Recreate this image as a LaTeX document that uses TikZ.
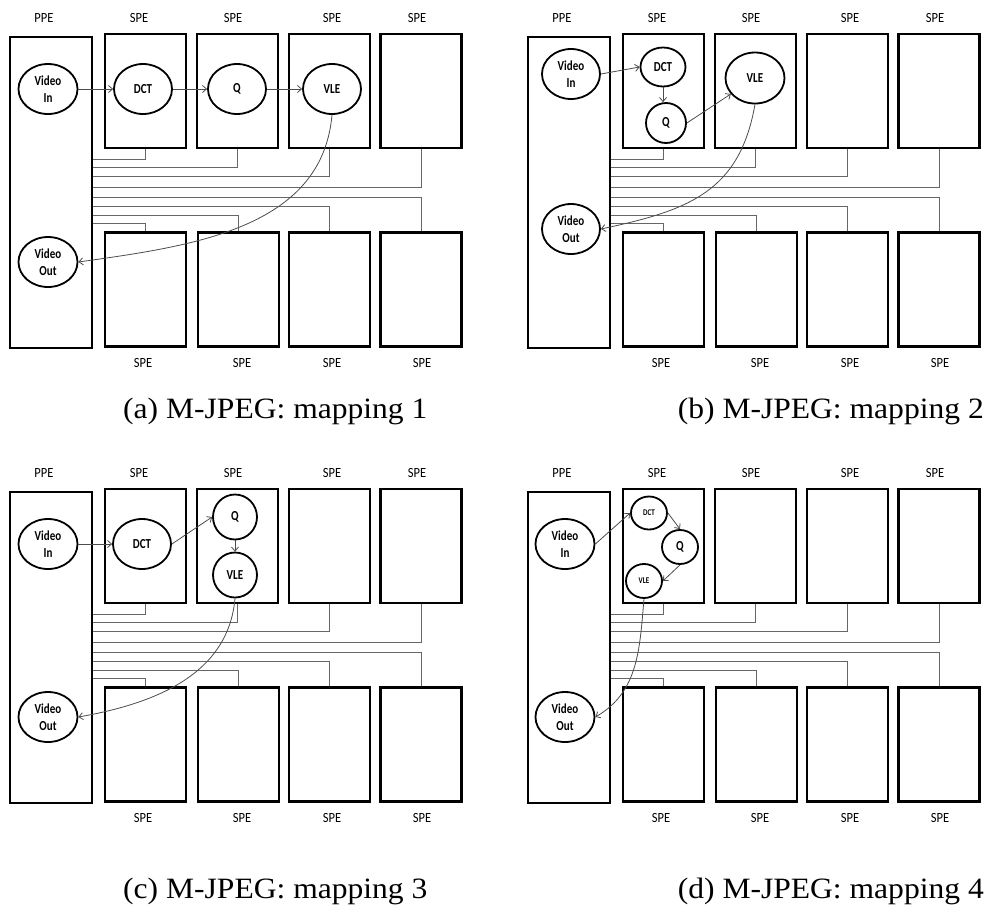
\documentclass[tikz,border=0pt]{standalone}
\usepackage{fontspec}
\setmainfont{Liberation Serif}
\newfontfamily\cali{Carlito}
\usetikzlibrary{shapes.geometric,arrows.meta}
\newcommand\vtall[1]{\scalebox{1}[1.25]{#1}}
\newcommand\ltall[1]{\scalebox{1}[1.12]{#1}}
\newcommand\capwide[1]{\scalebox{1.07}[1]{#1}}
\tikzset{
  x=1pt,y=-1pt,
  ppebox/.style={draw=black,line width=2.2pt,minimum width=82pt,minimum height=311pt,inner sep=0pt},
  pebox/.style={draw=black,line width=2.2pt,minimum width=81pt,minimum height=114pt,inner sep=0pt},
  lbl/.style={font=\cali\fontsize{12.5}{15}\selectfont,inner sep=0pt},
  bus/.style={draw=black!60,line width=1pt},
  ell/.style={ellipse,draw=black,line width=1.8pt,inner sep=0pt,align=center,
              font=\cali\bfseries\fontsize{11}{17}\selectfont},
  smallell/.style={ell,font=\cali\bfseries\fontsize{7}{8}\selectfont},
  arr/.style={draw=black!70,line width=0.8pt,-{Straight Barb[length=4pt,width=7pt]}},
  captxt/.style={font=\fontsize{29.5}{34}\selectfont,inner sep=0pt},
}
\newcommand\cellpanel[3]{%
\begin{scope}[shift={(#2,#3)}]
  \node[ppebox] (#1ppe) at (51,192.5) {};
  \node[pebox] (#1t1) at (145.5,91) {};
  \node[pebox] (#1t2) at (237.5,91) {};
  \node[pebox] (#1t3) at (329.5,91) {};
  \node[pebox] (#1t4) at (421,91) {};
  \node[pebox] (#1b1) at (145.5,289.5) {};
  \node[pebox] (#1b2) at (238.5,289.5) {};
  \node[pebox] (#1b3) at (329.5,289.5) {};
  \node[pebox] (#1b4) at (421,289.5) {};
  \node[lbl] (#1lp) at (44,18) {\ltall{PPE}};
  \node[lbl] (#1lt1) at (139,18) {\ltall{SPE}};
  \node[lbl] (#1lt2) at (233,18) {\ltall{SPE}};
  \node[lbl] (#1lt3) at (332,18) {\ltall{SPE}};
  \node[lbl] (#1lt4) at (417,18) {\ltall{SPE}};
  \node[lbl] (#1lb1) at (143,363) {\ltall{SPE}};
  \node[lbl] (#1lb2) at (242,363) {\ltall{SPE}};
  \node[lbl] (#1lb3) at (332,363) {\ltall{SPE}};
  \node[lbl] (#1lb4) at (422,363) {\ltall{SPE}};
  \coordinate (#1y1) at (0,159);
  \coordinate (#1y2) at (0,167);
  \coordinate (#1y3) at (0,176);
  \coordinate (#1y4) at (0,187);
  \coordinate (#1y5) at (0,197);
  \coordinate (#1y6) at (0,206);
  \coordinate (#1y7) at (0,215);
  \coordinate (#1y8) at (0,223);
  \draw[bus] (#1ppe.east |- #1y1) -| (#1t1.south);
  \draw[bus] (#1ppe.east |- #1y2) -| (#1t2.south);
  \draw[bus] (#1ppe.east |- #1y3) -| (#1t3.south);
  \draw[bus] (#1ppe.east |- #1y4) -| (#1t4.south);
  \draw[bus] (#1ppe.east |- #1y5) -| (#1b4.north);
  \draw[bus] (#1ppe.east |- #1y6) -| (#1b3.north);
  \draw[bus] (#1ppe.east |- #1y7) -| (#1b2.north);
  \draw[bus] (#1ppe.east |- #1y8) -| (#1b1.north);
\end{scope}}
\begin{document}
\begin{tikzpicture}
\useasboundingbox (0,0) rectangle (986,911);
\cellpanel{a}{0}{0}
\cellpanel{b}{518}{0}
\cellpanel{c}{0}{455}
\cellpanel{d}{518}{455}

% panel (a)
\begin{scope}[shift={(0,0)}]
  \node[ell,minimum width=59pt,minimum height=50pt] (avin) at (48,89) {\vtall{Video}\\\vtall{In}};
  \node[ell,minimum width=58pt,minimum height=50pt] (adct) at (143,89) {\vtall{DCT}};
  \node[ell,minimum width=58pt,minimum height=50pt] (aq) at (237,89) {\vtall{Q}};
  \node[ell,minimum width=58pt,minimum height=50pt] (avle) at (332,89) {\vtall{VLE}};
  \node[ell,minimum width=59pt,minimum height=50pt] (avout) at (48,262) {\vtall{Video}\\\vtall{Out}};
\end{scope}
\draw[arr] (avin) -- (adct);
\draw[arr] (adct) -- (aq);
\draw[arr] (aq) -- (avle);
\draw[arr] (avle.south) to[out=-95,in=8] (avout.east);

% panel (b)
\begin{scope}[shift={(518,0)}]
  \node[ell,minimum width=58pt,minimum height=50pt] (bvin) at (53,74) {\vtall{Video}\\\vtall{In}};
  \node[ell,minimum width=45pt,minimum height=39pt] (bdct) at (145,67) {\vtall{DCT}};
  \node[ell,minimum width=40pt,minimum height=40pt] (bq) at (148,123) {\vtall{Q}};
  \node[ell,minimum width=59pt,minimum height=51pt] (bvle) at (237,78) {\vtall{VLE}};
  \node[ell,minimum width=58pt,minimum height=50pt] (bvout) at (53,229) {\vtall{Video}\\\vtall{Out}};
\end{scope}
\draw[arr] (bvin.east) -- (bdct.west);
\draw[arr] (bdct.south) -- (bdct.south |- bq.north);
\draw[arr] (bq.east) -- (bvle);
\draw[arr] (bvle.south) to[out=-100,in=12,looseness=1.15] (bvout.east);

% panel (c)
\begin{scope}[shift={(0,455)}]
  \node[ell,minimum width=59pt,minimum height=50pt] (cvin) at (48,89) {\vtall{Video}\\\vtall{In}};
  \node[ell,minimum width=58pt,minimum height=50pt] (cdct) at (142,89) {\vtall{DCT}};
  \node[ell,minimum width=44pt,minimum height=45pt] (cq) at (235,62) {\vtall{Q}};
  \node[ell,minimum width=44pt,minimum height=45pt] (cvle) at (235,120) {\vtall{VLE}};
  \node[ell,minimum width=59pt,minimum height=50pt] (cvout) at (48,262) {\vtall{Video}\\\vtall{Out}};
\end{scope}
\draw[arr] (cvin) -- (cdct);
\draw[arr] (cdct.east) -- (cq.west);
\draw[arr] (cq) -- (cvle);
\draw[arr] (cvle.south) to[out=-95,in=10] (cvout.east);

% panel (d)
\begin{scope}[shift={(518,455)}]
  \node[ell,minimum width=59pt,minimum height=50pt] (dvin) at (47,89) {\vtall{Video}\\\vtall{In}};
  \node[smallell,minimum width=36pt,minimum height=33pt] (ddct) at (131,58) {\vtall{DCT}};
  \node[ell,minimum width=36pt,minimum height=34pt] (dq) at (162,92) {\vtall{Q}};
  \node[smallell,minimum width=36pt,minimum height=34pt] (dvle) at (126,126) {\vtall{VLE}};
  \node[ell,minimum width=59pt,minimum height=50pt] (dvout) at (47,262) {\vtall{Video}\\\vtall{Out}};
\end{scope}
\draw[arr] (dvin.east) -- (ddct.west);
\draw[arr] (ddct.east) -- (dq.north);
\draw[arr] (dq.south) -- (dvle.east);
\draw[arr] (dvle.south) to[out=-95,in=30] (dvout.east);

% captions
\node[captxt,anchor=base west] (capa) at (123,418) {\capwide{(a) M-JPEG: mapping 1}};
\node[captxt,anchor=base east] (capb) at (984,418) {\capwide{(b) M-JPEG: mapping 2}};
\node[captxt,anchor=base west] (capc) at (123,898) {\capwide{(c) M-JPEG: mapping 3}};
\node[captxt,anchor=base east] (capd) at (984,898) {\capwide{(d) M-JPEG: mapping 4}};
\end{tikzpicture}
\end{document}
